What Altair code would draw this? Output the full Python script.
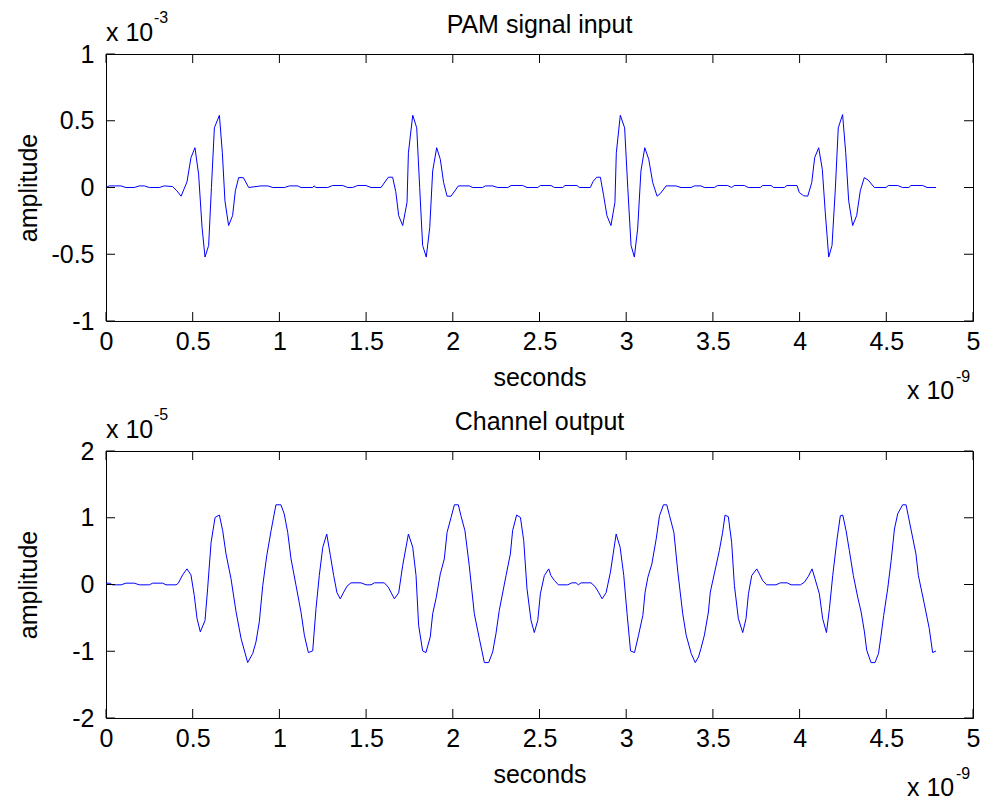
import altair as alt
import pandas as pd

# ---------------- data (time in units of 1e-9 s) ----------------
# PAM signal input, amplitude in units of 1e-3
pam_points = [
    (0.000, 0.000), (0.019, 0.012), (0.086, 0.012), (0.115, 0.000), (0.163, 0.000),
    (0.192, 0.012), (0.221, 0.012), (0.250, 0.000), (0.307, 0.000), (0.336, 0.012),
    (0.384, 0.007), (0.409, -0.025), (0.433, -0.065), (0.467, 0.042), (0.490, 0.223),
    (0.513, 0.298), (0.534, 0.100), (0.554, -0.300), (0.571, -0.521), (0.592, -0.434),
    (0.608, 0.000), (0.625, 0.447), (0.654, 0.541), (0.671, 0.260), (0.686, -0.100),
    (0.707, -0.285), (0.730, -0.211), (0.746, -0.025), (0.765, 0.074), (0.792, 0.074),
    (0.823, 0.000), (0.894, 0.012), (0.933, 0.012), (0.962, 0.000), (1.029, 0.000),
    (1.058, 0.012), (1.106, 0.012), (1.125, 0.000), (1.192, 0.000), (1.200, 0.012),
    (1.211, 0.000), (1.278, 0.000), (1.307, 0.015), (1.365, 0.015), (1.394, 0.000),
    (1.423, 0.000), (1.451, 0.015), (1.499, 0.015), (1.528, 0.000), (1.586, 0.000),
    (1.628, 0.077), (1.653, 0.077), (1.671, -0.030), (1.688, -0.211), (1.711, -0.285),
    (1.736, -0.112), (1.744, 0.260), (1.769, 0.541), (1.792, 0.447), (1.809, 0.000),
    (1.826, -0.434), (1.847, -0.521), (1.867, -0.300), (1.884, 0.124), (1.907, 0.298),
    (1.928, 0.211), (1.947, 0.037), (1.967, -0.065), (1.990, -0.065), (2.032, 0.012),
    (2.095, 0.012), (2.115, 0.000), (2.172, 0.000), (2.188, 0.012), (2.230, 0.012),
    (2.259, 0.000), (2.317, 0.000), (2.336, 0.015), (2.403, 0.015), (2.428, 0.000),
    (2.490, 0.000), (2.505, 0.015), (2.566, 0.015), (2.586, 0.000), (2.634, 0.000),
    (2.647, 0.015), (2.716, 0.015), (2.730, 0.000), (2.793, 0.000), (2.809, 0.045),
    (2.830, 0.077), (2.851, 0.077), (2.870, -0.062), (2.889, -0.211), (2.912, -0.285),
    (2.935, -0.112), (2.943, 0.260), (2.966, 0.541), (2.991, 0.447), (3.009, 0.000),
    (3.028, -0.434), (3.047, -0.521), (3.066, -0.310), (3.085, 0.124), (3.107, 0.298),
    (3.130, 0.211), (3.153, 0.037), (3.178, -0.065), (3.197, -0.045), (3.230, 0.012),
    (3.287, 0.012), (3.316, 0.000), (3.374, 0.000), (3.393, 0.012), (3.431, 0.012),
    (3.451, 0.000), (3.508, 0.000), (3.527, 0.015), (3.585, 0.015), (3.608, 0.000),
    (3.623, 0.015), (3.681, 0.015), (3.704, 0.000), (3.773, 0.000), (3.787, 0.015),
    (3.835, 0.015), (3.850, 0.000), (3.912, 0.000), (3.927, 0.015), (3.985, 0.015),
    (3.998, -0.037), (4.023, -0.062), (4.047, -0.065), (4.070, 0.037), (4.087, 0.223),
    (4.110, 0.298), (4.131, 0.136), (4.148, -0.186), (4.168, -0.521), (4.187, -0.434),
    (4.206, -0.012), (4.223, 0.447), (4.248, 0.546), (4.266, 0.260), (4.283, -0.100),
    (4.306, -0.285), (4.329, -0.211), (4.350, -0.025), (4.373, 0.074), (4.396, 0.055),
    (4.431, 0.000), (4.498, 0.000), (4.512, 0.015), (4.566, 0.015), (4.594, 0.000),
    (4.630, 0.000), (4.642, 0.015), (4.710, 0.015), (4.735, 0.000), (4.787, 0.000),
]

# Channel output, amplitude in units of 1e-5
channel_points = [
    (0.000, 0.020), (0.019, 0.020), (0.038, -0.005), (0.087, -0.005), (0.115, 0.020),
    (0.163, 0.020), (0.192, -0.005), (0.250, -0.005), (0.269, 0.020), (0.327, 0.020),
    (0.346, -0.005), (0.404, -0.005), (0.417, 0.020), (0.442, 0.144), (0.467, 0.234),
    (0.490, 0.144), (0.509, -0.164), (0.525, -0.510), (0.544, -0.710), (0.571, -0.540),
    (0.586, -0.065), (0.606, 0.630), (0.629, 1.005), (0.654, 1.040), (0.673, 0.806),
    (0.692, 0.460), (0.721, 0.085), (0.750, -0.410), (0.779, -0.810), (0.817, -1.170),
    (0.846, -1.035), (0.865, -0.860), (0.884, -0.560), (0.904, -0.015), (0.927, 0.430),
    (0.952, 0.806), (0.980, 1.194), (1.009, 1.194), (1.028, 1.055), (1.048, 0.780),
    (1.067, 0.383), (1.096, -0.015), (1.125, -0.420), (1.144, -0.760), (1.167, -1.020),
    (1.192, -0.995), (1.211, -0.363), (1.230, 0.134), (1.250, 0.557), (1.273, 0.756),
    (1.294, 0.433), (1.313, 0.134), (1.332, -0.124), (1.351, -0.214), (1.371, -0.114),
    (1.390, -0.025), (1.413, 0.025), (1.471, 0.025), (1.500, -0.005), (1.528, -0.005),
    (1.548, 0.025), (1.605, 0.025), (1.628, -0.040), (1.663, -0.214), (1.688, -0.124),
    (1.711, 0.284), (1.744, 0.756), (1.769, 0.557), (1.788, 0.134), (1.803, -0.612),
    (1.826, -0.995), (1.845, -1.020), (1.870, -0.786), (1.884, -0.438), (1.903, -0.214),
    (1.928, 0.159), (1.951, 0.383), (1.967, 0.781), (1.990, 1.005), (2.009, 1.194),
    (2.032, 1.194), (2.047, 1.030), (2.070, 0.806), (2.095, 0.280), (2.124, -0.438),
    (2.153, -0.810), (2.182, -1.170), (2.207, -1.170), (2.230, -1.010), (2.249, -0.736),
    (2.268, -0.388), (2.307, 0.134), (2.332, 0.458), (2.345, 0.806), (2.368, 1.040),
    (2.390, 1.005), (2.409, 0.657), (2.428, -0.065), (2.451, -0.537), (2.470, -0.720),
    (2.490, -0.537), (2.505, -0.139), (2.528, 0.134), (2.553, 0.234), (2.566, 0.134),
    (2.586, 0.060), (2.609, -0.005), (2.663, -0.005), (2.686, 0.025), (2.711, 0.025),
    (2.724, -0.005), (2.740, 0.025), (2.797, 0.025), (2.820, -0.030), (2.840, -0.114),
    (2.861, -0.214), (2.884, -0.124), (2.909, 0.184), (2.942, 0.756), (2.965, 0.557),
    (2.986, 0.134), (3.005, -0.438), (3.025, -0.995), (3.048, -1.020), (3.071, -0.760),
    (3.096, -0.463), (3.109, -0.114), (3.125, 0.109), (3.148, 0.308), (3.173, 0.682),
    (3.192, 1.030), (3.215, 1.194), (3.234, 1.194), (3.250, 1.030), (3.275, 0.781),
    (3.298, 0.184), (3.326, -0.438), (3.346, -0.760), (3.375, -1.035), (3.398, -1.170),
    (3.417, -1.085), (3.431, -0.960), (3.451, -0.760), (3.474, -0.413), (3.485, -0.114),
    (3.508, 0.159), (3.537, 0.507), (3.556, 0.781), (3.570, 1.040), (3.589, 1.015),
    (3.608, 0.632), (3.624, -0.015), (3.647, -0.512), (3.672, -0.720), (3.691, -0.512),
    (3.705, -0.139), (3.724, 0.134), (3.753, 0.234), (3.768, 0.159), (3.787, 0.060),
    (3.810, -0.005), (3.864, -0.005), (3.889, 0.025), (3.928, 0.025), (3.951, -0.005),
    (4.005, -0.005), (4.028, 0.035), (4.051, 0.124), (4.072, 0.234), (4.089, 0.085),
    (4.114, -0.139), (4.133, -0.512), (4.155, -0.720), (4.172, -0.363), (4.191, 0.134),
    (4.216, 0.682), (4.235, 1.030), (4.249, 1.040), (4.268, 0.806), (4.287, 0.507),
    (4.310, 0.134), (4.335, -0.189), (4.355, -0.413), (4.374, -0.711), (4.387, -0.985),
    (4.412, -1.170), (4.435, -1.170), (4.455, -1.035), (4.470, -0.760), (4.485, -0.463),
    (4.508, -0.065), (4.528, 0.358), (4.547, 0.831), (4.566, 1.060), (4.594, 1.194),
    (4.614, 1.194), (4.642, 0.831), (4.671, 0.458), (4.685, 0.134), (4.719, -0.289),
    (4.748, -0.662), (4.767, -1.020), (4.787, -0.995),
]

x_tick_values = [0, 0.5, 1, 1.5, 2, 2.5, 3, 3.5, 4, 4.5, 5]
pam_y_ticks = [-1, -0.5, 0, 0.5, 1]
channel_y_ticks = [-2, -1, 0, 1, 2]
x_domain = [0, 5]
pam_y_domain = [-1, 1]
channel_y_domain = [-2, 2]

panel_titles = ["PAM signal input", "Channel output"]
x_label = "seconds"
y_label = "amplitude"
x_exponent = "-9"
pam_exponent = "-3"
channel_exponent = "-5"

# ---------------- styling ----------------
W, H = 867, 267
FONT = "Liberation Sans"
FS = 25
SUP = 16
TL = 9
BLUE = "#0000ff"


def text_mark(txt, x, y, size, align="left"):
    return alt.Chart(pd.DataFrame({"s": [txt]})).mark_text(
        font=FONT, fontSize=size, color="black", align=align, baseline="alphabetic"
    ).encode(x=alt.value(x), y=alt.value(y), text="s:N")


def panel(points, yticks, ydomain, title, yexp):
    xs = alt.Scale(domain=x_domain, nice=False, zero=False)
    ys = alt.Scale(domain=ydomain, nice=False, zero=False)
    xaxis = alt.Axis(
        values=x_tick_values, title=x_label, ticks=False, domain=False, grid=False,
        labelExpr="toString(datum.value)", labelFont=FONT, labelFontSize=FS,
        labelColor="black", labelPadding=8, labelFlush=False, labelOverlap=False,
        titleFont=FONT, titleFontSize=FS, titleFontWeight="normal", titleColor="black",
        titleY=64, titleBaseline="alphabetic",
    )
    yaxis = alt.Axis(
        values=yticks, title=y_label, ticks=False, domain=False, grid=False,
        labelExpr="toString(datum.value)", labelFont=FONT, labelFontSize=FS,
        labelColor="black", labelPadding=12, labelFlush=False, labelOverlap=False,
        titleFont=FONT, titleFontSize=FS, titleFontWeight="normal", titleColor="black",
        titleX=-70, titleY=H / 2, titleAngle=270, titleBaseline="alphabetic",
        titleAlign="center",
    )
    X = alt.X("t:Q", scale=xs, axis=xaxis)
    Y = alt.Y("v:Q", scale=ys, axis=yaxis)

    df = pd.DataFrame(points, columns=["t", "v"])
    line = alt.Chart(df).mark_line(color=BLUE, strokeWidth=1).encode(x=X, y=Y)

    xt = pd.DataFrame({"t": x_tick_values})
    yt = pd.DataFrame({"v": yticks})
    rule = dict(color="black", strokeWidth=1)
    bottom_ticks = alt.Chart(xt).mark_rule(**rule).encode(
        x=X, y=alt.value(H - TL), y2=alt.value(H))
    top_ticks = alt.Chart(xt).mark_rule(**rule).encode(
        x=X, y=alt.value(0), y2=alt.value(TL))
    left_ticks = alt.Chart(yt).mark_rule(**rule).encode(
        y=Y, x=alt.value(0), x2=alt.value(TL))
    right_ticks = alt.Chart(yt).mark_rule(**rule).encode(
        y=Y, x=alt.value(W - TL), x2=alt.value(W))

    layers = [
        line, bottom_ticks, top_ticks, left_ticks, right_ticks,
        text_mark(title, W / 2, -21, FS, "center"),
        text_mark("x 10", 0, -13.5, FS),
        text_mark(yexp, 48, -31, SUP),
        text_mark("x 10", 801, H + 78, FS),
        text_mark(x_exponent, 850, H + 61, SUP),
    ]
    return alt.layer(*layers).properties(width=W, height=H)


top = panel(pam_points, pam_y_ticks, pam_y_domain, panel_titles[0], pam_exponent)
bottom = panel(channel_points, channel_y_ticks, channel_y_domain, panel_titles[1], channel_exponent)

chart = alt.vconcat(top, bottom, spacing=1).properties(
    padding={"left": 15, "top": 9, "right": 0, "bottom": 0},
    background="white",
).configure_view(stroke="black", strokeWidth=1)

chart.save("out.html", embed_options={"renderer": "svg", "actions": False})
